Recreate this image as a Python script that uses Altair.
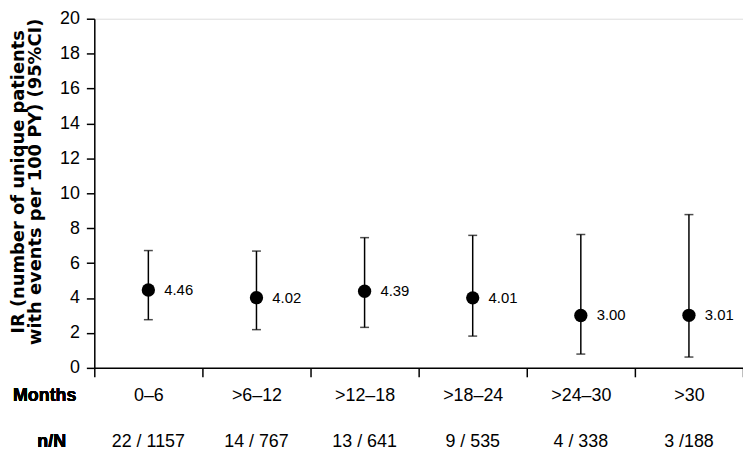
import altair as alt
import pandas as pd

categories = ["0–6", ">6–12", ">12–18", ">18–24", ">24–30", ">30"]
ir = [4.46, 4.02, 4.39, 4.01, 3.00, 3.01]
ci_low = [2.76, 2.19, 2.32, 1.82, 0.79, 0.62]
ci_high = [6.72, 6.69, 7.46, 7.59, 7.64, 8.78]
value_labels = ["4.46", "4.02", "4.39", "4.01", "3.00", "3.01"]
n_over_N = ["22 / 1157", "14 / 767", "13 / 641", "9 / 535", "4 / 338", "3 /188"]
y_ticks = [0, 2, 4, 6, 8, 10, 12, 14, 16, 18, 20]

df = pd.DataFrame({
    "cat": categories, "ir": ir, "lo": ci_low, "hi": ci_high,
    "lab": value_labels, "nn": n_over_N,
})

W, H = 654, 352
FONT = "Liberation Sans"

x = alt.X("cat:N", sort=categories,
          scale=alt.Scale(paddingInner=0, paddingOuter=0),
          axis=alt.Axis(title=None, labelAngle=0, labelFontSize=18, labelFont=FONT,
                        labelColor="black", tickBand="extent", tickSize=9,
                        tickColor="black", domainColor="black", tickWidth=1.5,
                        domainWidth=1.5, labelPadding=10, grid=False))
yscale = alt.Scale(domain=[0, 20], nice=False)
yaxis = alt.Axis(values=y_ticks, tickSize=8, tickColor="black",
                 tickWidth=1.5, domainColor="black", domainWidth=1.5,
                 labelFontSize=18, labelFont=FONT, labelColor="black",
                 labelPadding=7, labelOverlap=False, labelBound=False,
                 labelFlush=False, grid=False,
                 title=["IR (number of unique patients", "with events per 100 PY) (95%CI)"],
                 titleFontSize=18, titleFont="DejaVu Sans", titleFontWeight="bold",
                 titleColor="black", titleLineHeight=17,
                 titleX=-85, titleY=164, titleAlign="center",
                 titleBaseline="top", titleAngle=270)


def Y(f):
    return alt.Y(f, scale=yscale, axis=yaxis)


base = alt.Chart(df)
rules = base.mark_rule(color="black", strokeWidth=1.5).encode(x=x, y=Y("lo:Q"), y2="hi:Q")
caps_lo = base.mark_tick(color="black", thickness=1.5, size=9, orient="horizontal").encode(x=x, y=Y("lo:Q"))
caps_hi = base.mark_tick(color="black", thickness=1.5, size=9, orient="horizontal").encode(x=x, y=Y("hi:Q"))
points = base.mark_circle(color="black", opacity=1, size=180).encode(x=x, y=Y("ir:Q"))
labels = base.mark_text(align="left", baseline="middle", dx=16, fontSize=15, font=FONT,
                        color="black").encode(x=x, y=Y("ir:Q"), text="lab:N")
nn = base.mark_text(baseline="middle", fontSize=18, font=FONT, color="black").encode(
    x=x, y=alt.value(H + 75), text="nn:N")
months = base.mark_text(baseline="middle", fontSize=18, font=FONT, fontWeight="bold",
                        color="black").encode(x=alt.value(-50), y=alt.value(H + 28), text=alt.value("Months"))
nlab = base.mark_text(baseline="middle", fontSize=18, font=FONT, fontWeight="bold",
                      color="black").encode(x=alt.value(-43), y=alt.value(H + 75), text=alt.value("n/N"))

chart = alt.layer(points, rules, caps_lo, caps_hi, labels, nn, months, nlab).properties(
    width=W, height=H,
    padding={"left": 87, "top": 9, "right": 0, "bottom": 82},
    autosize=alt.AutoSizeParams(type="none"),
).configure_view(stroke=None).configure(background="white")

chart.save("out.html", embed_options={"renderer": "svg", "actions": False})
